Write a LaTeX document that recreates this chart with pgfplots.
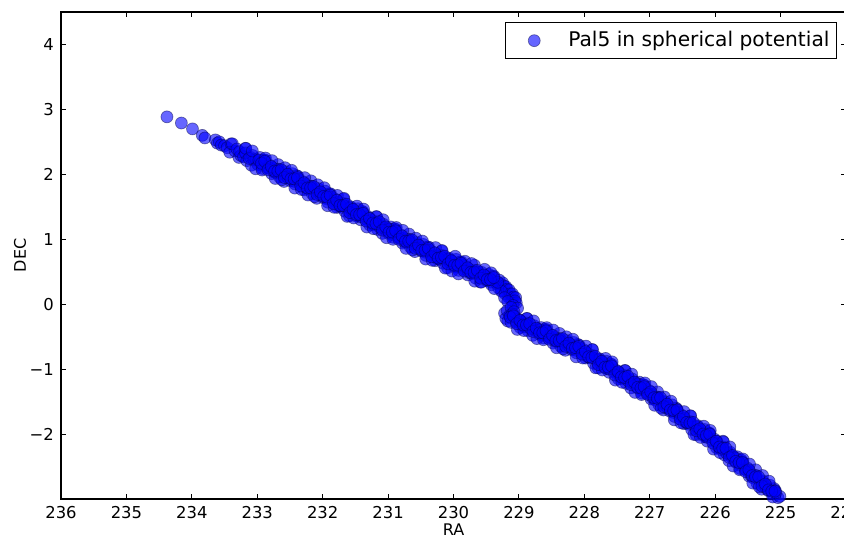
\documentclass[border=0pt]{standalone}
\usepackage{fontspec}
\setmainfont{DejaVu Sans}
\usepackage{pgfplots}
\pgfplotsset{compat=1.18}

\begin{document}
\begin{tikzpicture}
\begin{axis}[
  name=ax,
  scale only axis,
  width=392.5pt, height=243.5pt,
  x dir=reverse,
  xmin=224, xmax=236, ymin=-3, ymax=4.5,
  xtick={224,...,236},
  ytick={-2,...,4},
  yticklabels={−2,−1,0,1,2,3,4},
  /pgf/number format/assume math mode=true,
  /pgf/number format/1000 sep={},
  tick label style={font=\fontsize{8.2}{9}\selectfont},
  label style={font=\fontsize{8}{9}\selectfont},
  xlabel={RA}, ylabel={DEC},
  xlabel style={at={(axis description cs:0.5,-0.062)}, anchor=center},
  ylabel style={at={(axis description cs:-0.052,0.5)}, anchor=center},
  axis line style={line width=0.7pt},
  major tick length=2.5pt,
  tick style={black, line width=0.5pt},
  legend style={at={(1,1)}, anchor=north east, xshift=-4.5pt, yshift=-5pt,
    draw=black, line width=0.5pt, fill=white,
    font=\fontsize{10.1}{11}\selectfont, inner xsep=1.5pt, inner ysep=2.5pt},
  legend cell align=left,
]
\addplot[only marks, mark=*, mark size=3pt, blue,
  mark options={fill=blue, draw=black!75!blue, fill opacity=0.6, draw opacity=0.45, line width=0.35pt},
  legend image code/.code={\path[draw=none,fill=none] (0pt,-1pt) rectangle (28pt,1pt);
    \draw[mark repeat=2,mark phase=2,##1] plot coordinates {(0pt,0pt) (13pt,0pt) (28pt,0pt)};}]
table {
x y
234.38 2.885
234.16 2.79
233.99 2.70
233.84 2.60
233.80 2.56
233.64 2.53
233.61 2.48
233.58 2.50
233.55 2.45
233.50 2.44
233.46 2.41
233.40 2.47
233.42 2.34
233.34 2.36
233.38 2.47
233.31 2.39
233.28 2.26
233.25 2.29
233.27 2.35
233.18 2.40
233.21 2.27
233.16 2.21
233.18 2.33
233.10 2.26
233.09 2.14
233.07 2.29
233.05 2.22
232.99 2.15
233.02 2.23
232.96 2.26
232.93 2.14
232.90 2.22
232.92 2.09
232.84 2.11
232.88 2.22
232.81 2.14
232.78 2.01
232.75 2.04
232.77 2.10
232.68 2.15
232.71 2.02
232.66 1.96
232.68 2.08
232.60 2.01
232.59 1.89
232.57 2.04
232.55 1.97
232.49 1.90
232.52 1.98
232.46 2.01
232.43 1.89
232.40 1.98
232.42 1.85
232.34 1.86
232.38 1.97
232.31 1.89
232.28 1.76
232.25 1.79
232.27 1.85
232.18 1.90
232.21 1.77
232.16 1.70
232.18 1.82
232.10 1.75
232.09 1.63
232.07 1.78
232.05 1.71
231.99 1.64
232.02 1.72
231.96 1.74
231.93 1.62
231.90 1.70
231.92 1.57
231.84 1.59
231.88 1.70
231.81 1.62
231.78 1.49
231.75 1.51
231.77 1.57
231.68 1.62
231.71 1.49
231.66 1.43
231.68 1.55
231.60 1.48
231.59 1.36
231.57 1.50
231.55 1.43
231.49 1.36
231.52 1.44
231.46 1.47
231.43 1.35
231.40 1.43
231.42 1.30
231.34 1.31
231.38 1.42
231.31 1.35
231.28 1.22
231.25 1.24
231.27 1.30
231.18 1.35
231.21 1.22
231.16 1.15
231.18 1.27
231.10 1.21
231.09 1.09
231.07 1.23
231.05 1.16
230.99 1.09
231.02 1.17
230.96 1.19
230.93 1.07
230.90 1.16
230.92 1.03
230.84 1.04
230.88 1.15
230.81 1.07
230.78 0.94
230.75 0.96
230.77 1.02
230.68 1.08
230.71 0.95
230.66 0.88
230.68 1.00
230.60 0.93
230.59 0.81
230.57 0.95
230.55 0.88
230.49 0.82
230.52 0.90
230.46 0.92
230.43 0.80
230.40 0.88
230.42 0.75
230.34 0.77
230.38 0.88
230.31 0.80
230.28 0.67
230.25 0.70
230.27 0.76
230.18 0.82
230.21 0.69
230.16 0.63
230.18 0.75
230.10 0.68
230.09 0.56
230.07 0.71
230.05 0.64
229.99 0.58
230.02 0.66
229.96 0.69
229.93 0.57
229.90 0.65
229.92 0.52
229.84 0.54
229.88 0.65
229.81 0.58
229.78 0.45
229.75 0.48
229.77 0.54
229.68 0.60
229.71 0.47
229.66 0.40
229.68 0.52
229.60 0.46
229.59 0.34
229.57 0.49
229.55 0.42
229.49 0.36
229.52 0.44
229.46 0.46
229.43 0.34
229.40 0.43
229.42 0.30
229.34 0.32
229.38 0.43
229.30 0.37
229.31 0.25
229.28 0.31
229.25 0.33
229.26 0.21
229.23 0.28
229.20 0.27
229.21 0.16
229.18 0.23
229.15 0.22
229.16 0.11
229.13 0.16
229.10 0.16
229.11 0.06
229.08 0.11
229.05 0.10
229.04 0.02
229.06 0.05
229.27 0.20
229.22 0.10
229.17 0.04
229.09 -0.02
229.02 -0.06
229.22 -0.14
229.20 -0.22
229.18 -0.10
229.17 -0.26
229.14 -0.17
229.12 -0.05
229.10 -0.15
229.12 -0.28
229.04 -0.27
229.08 -0.16
229.01 -0.23
228.98 -0.36
228.95 -0.33
228.97 -0.27
228.88 -0.22
228.91 -0.35
228.86 -0.41
228.88 -0.29
228.80 -0.36
228.79 -0.48
228.77 -0.33
228.75 -0.40
228.69 -0.46
228.72 -0.38
228.66 -0.36
228.63 -0.48
228.60 -0.39
228.62 -0.52
228.54 -0.50
228.58 -0.39
228.51 -0.47
228.48 -0.60
228.45 -0.57
228.47 -0.51
228.38 -0.45
228.41 -0.58
228.36 -0.65
228.38 -0.53
228.30 -0.59
228.29 -0.71
228.27 -0.56
228.25 -0.63
228.19 -0.70
228.22 -0.62
228.16 -0.59
228.13 -0.71
228.10 -0.62
228.12 -0.75
228.04 -0.74
228.08 -0.63
228.01 -0.70
227.98 -0.83
227.95 -0.81
227.97 -0.75
227.88 -0.70
227.91 -0.83
227.86 -0.91
227.88 -0.79
227.80 -0.86
227.79 -0.98
227.77 -0.84
227.75 -0.91
227.69 -0.98
227.72 -0.90
227.66 -0.88
227.63 -1.00
227.60 -0.92
227.62 -1.05
227.54 -1.04
227.58 -0.93
227.51 -1.02
227.48 -1.15
227.45 -1.13
227.47 -1.07
227.38 -1.02
227.41 -1.15
227.36 -1.22
227.38 -1.10
227.30 -1.17
227.29 -1.29
227.27 -1.15
227.25 -1.22
227.19 -1.29
227.22 -1.21
227.16 -1.20
227.13 -1.32
227.10 -1.24
227.12 -1.37
227.04 -1.36
227.08 -1.25
227.01 -1.33
226.98 -1.46
226.95 -1.45
226.97 -1.39
226.88 -1.35
226.91 -1.48
226.86 -1.55
226.88 -1.43
226.80 -1.51
226.79 -1.63
226.77 -1.50
226.75 -1.57
226.69 -1.65
226.72 -1.57
226.66 -1.55
226.63 -1.67
226.60 -1.60
226.62 -1.73
226.54 -1.73
226.58 -1.62
226.51 -1.71
226.48 -1.84
226.45 -1.82
226.47 -1.76
226.38 -1.72
226.41 -1.85
226.36 -1.93
226.38 -1.81
226.30 -1.89
226.29 -2.01
226.27 -1.87
226.25 -1.94
226.19 -2.02
226.22 -1.94
226.16 -1.93
226.13 -2.05
226.10 -1.98
226.12 -2.11
226.04 -2.10
226.08 -1.99
226.01 -2.08
225.98 -2.21
225.95 -2.20
225.97 -2.14
225.88 -2.11
225.91 -2.24
225.86 -2.32
225.88 -2.20
225.80 -2.29
225.79 -2.41
225.77 -2.28
225.75 -2.35
225.69 -2.43
225.72 -2.35
225.66 -2.35
225.63 -2.47
225.60 -2.40
225.62 -2.53
225.54 -2.54
225.58 -2.43
225.51 -2.52
225.48 -2.65
225.45 -2.64
225.47 -2.58
225.38 -2.55
225.41 -2.68
225.36 -2.76
225.38 -2.64
225.30 -2.73
225.29 -2.85
225.27 -2.72
225.25 -2.79
225.19 -2.87
225.22 -2.79
225.16 -2.79
225.13 -2.91
225.10 -2.84
225.12 -2.97
225.04 -2.98
225.08 -2.87
225.01 -2.96
224.98 -3.04
233.175 2.400
233.125 2.245
233.075 2.360
233.025 2.085
232.975 2.220
232.925 2.066
232.875 2.251
232.825 2.096
232.775 2.211
232.725 1.936
232.675 2.072
232.625 1.917
232.575 2.102
232.525 1.947
232.475 2.062
232.425 1.788
232.375 1.923
232.325 1.766
232.275 1.949
232.225 1.681
232.175 1.814
232.125 1.656
232.075 1.839
232.025 1.680
231.975 1.794
231.925 1.517
231.875 1.649
231.825 1.492
231.775 1.675
231.725 1.515
231.675 1.630
231.625 1.352
231.575 1.485
231.525 1.328
231.475 1.510
231.425 1.353
231.375 1.465
231.325 1.188
231.275 1.321
231.225 1.163
231.175 1.346
231.125 1.186
231.075 1.301
231.025 1.024
230.975 1.156
230.925 0.999
230.875 1.181
230.825 1.022
230.775 1.137
230.725 0.859
230.675 0.992
230.625 0.835
230.575 1.017
230.525 0.858
230.475 0.972
230.425 0.695
230.375 0.828
230.325 0.675
230.275 0.872
230.225 0.710
230.175 0.827
230.125 0.555
230.075 0.693
230.025 0.510
229.975 0.738
229.925 0.466
229.875 0.603
229.825 0.661
229.775 0.509
229.725 0.626
229.675 0.354
229.625 0.492
229.575 0.339
229.525 0.537
229.475 0.375
229.425 0.483
229.375 0.240
229.325 0.338
229.075 -0.116
229.025 -0.389
228.975 -0.253
228.925 -0.406
228.875 -0.220
228.825 -0.373
228.775 -0.257
228.725 -0.530
228.675 -0.394
228.625 -0.547
228.575 -0.361
228.525 -0.514
228.475 -0.398
228.425 -0.671
228.375 -0.535
228.325 -0.688
228.275 -0.502
228.225 -0.655
228.175 -0.539
228.125 -0.812
228.075 -0.676
228.025 -0.829
227.975 -0.646
227.925 -0.808
227.875 -0.699
227.825 -0.981
227.775 -0.852
227.725 -1.014
227.675 -0.835
227.625 -0.997
227.575 -0.888
227.525 -1.170
227.475 -1.041
227.425 -1.203
227.375 -1.024
227.325 -1.186
227.275 -1.077
227.225 -1.359
227.175 -1.230
227.125 -1.392
227.075 -1.213
227.025 -1.375
226.975 -1.269
226.925 -1.557
226.875 -1.434
226.825 -1.602
226.775 -1.429
226.725 -1.597
226.675 -1.494
226.625 -1.782
226.575 -1.659
226.525 -1.827
226.475 -1.654
226.425 -1.822
226.375 -1.719
226.325 -2.007
226.275 -1.884
226.225 -2.052
226.175 -1.879
226.125 -2.047
226.075 -1.944
226.025 -2.232
225.975 -2.112
225.925 -2.286
225.875 -2.120
225.825 -2.294
225.775 -2.198
225.725 -2.492
225.675 -2.376
225.625 -2.550
225.575 -2.384
225.525 -2.558
225.475 -2.462
225.425 -2.756
225.375 -2.640
225.325 -2.814
225.275 -2.638
225.225 -2.822
225.175 -2.726
225.125 -3.020
225.075 -2.904
225.025 -3.078
232.935 2.17
232.885 2.20
232.835 2.07
232.785 2.12
232.735 2.05
232.685 2.05
232.635 2.07
232.585 1.95
232.535 2.00
232.485 1.93
232.435 1.93
232.385 1.95
232.335 1.82
232.285 1.87
232.235 1.79
232.185 1.79
232.135 1.81
232.085 1.69
232.035 1.73
231.985 1.66
231.935 1.65
231.885 1.68
231.835 1.55
231.785 1.60
231.735 1.52
231.685 1.52
231.635 1.54
231.585 1.41
231.535 1.46
231.485 1.38
231.435 1.38
231.385 1.40
231.335 1.28
231.285 1.32
231.235 1.25
231.185 1.24
231.135 1.27
231.085 1.14
231.035 1.19
230.985 1.11
230.935 1.11
230.885 1.13
230.835 1.00
230.785 1.05
230.735 0.97
230.685 0.97
230.635 0.99
230.585 0.86
230.535 0.91
230.485 0.83
230.435 0.83
230.385 0.86
230.335 0.73
230.285 0.79
230.235 0.71
230.185 0.72
230.135 0.74
230.085 0.62
230.035 0.67
229.985 0.60
229.935 0.60
229.885 0.63
229.835 0.51
229.785 0.56
229.735 0.49
229.685 0.49
229.635 0.52
229.585 0.40
229.535 0.45
229.485 0.38
229.435 0.38
229.385 0.41
229.135 -0.20
229.085 -0.18
229.035 -0.30
228.985 -0.25
228.935 -0.32
228.885 -0.32
228.835 -0.30
228.785 -0.42
228.735 -0.37
228.685 -0.44
228.635 -0.44
228.585 -0.41
228.535 -0.54
228.485 -0.48
228.435 -0.56
228.385 -0.56
228.335 -0.53
228.285 -0.65
228.235 -0.60
228.185 -0.68
228.135 -0.67
228.085 -0.65
228.035 -0.77
227.985 -0.73
227.935 -0.81
227.885 -0.82
227.835 -0.80
227.785 -0.93
227.735 -0.88
227.685 -0.97
227.635 -0.97
227.585 -0.95
227.535 -1.09
227.485 -1.04
227.435 -1.12
227.385 -1.13
227.335 -1.11
227.285 -1.24
227.235 -1.20
227.185 -1.28
227.135 -1.29
227.085 -1.27
227.035 -1.39
226.985 -1.35
226.935 -1.44
226.885 -1.45
226.835 -1.44
226.785 -1.58
226.735 -1.54
226.685 -1.63
226.635 -1.64
226.585 -1.63
226.535 -1.77
226.485 -1.73
226.435 -1.82
226.385 -1.83
226.335 -1.82
226.285 -1.95
226.235 -1.92
226.185 -2.00
226.135 -2.02
226.085 -2.00
226.035 -2.14
225.985 -2.11
225.935 -2.20
225.885 -2.22
225.835 -2.22
225.785 -2.36
225.735 -2.33
225.685 -2.42
225.635 -2.44
225.585 -2.44
225.535 -2.58
225.485 -2.55
225.435 -2.64
225.385 -2.66
225.335 -2.66
225.285 -2.80
225.235 -2.77
225.185 -2.86
225.135 -2.88
225.085 -2.88
};
\addlegendentry{Pal5 in spherical potential}
\end{axis}
\pgfresetboundingbox
\path[use as bounding box] ([xshift=-30.5pt,yshift=-18.5pt]ax.south west) rectangle ([xshift=-1pt,yshift=6pt]ax.north east);
\end{tikzpicture}
\end{document}
